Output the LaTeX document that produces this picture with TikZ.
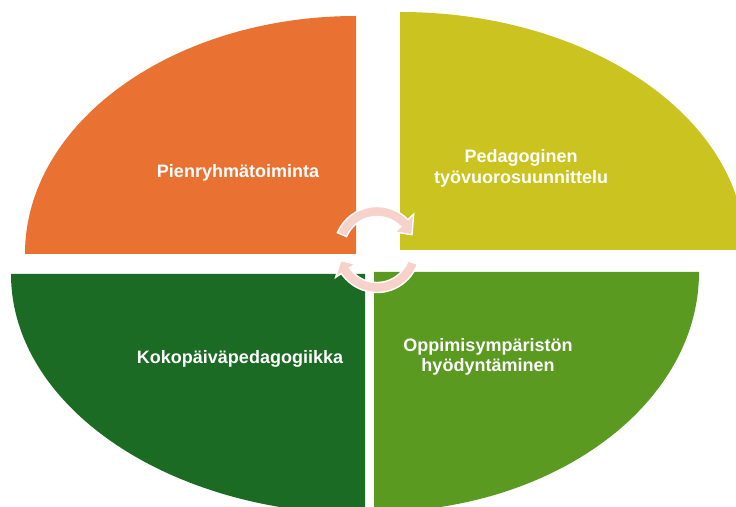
\documentclass[tikz,border=0pt]{standalone}
\usepackage{fontspec}
\setmainfont{Liberation Sans}
\definecolor{orangeq}{HTML}{E97132}
\definecolor{yellowq}{HTML}{CBC320}
\definecolor{darkgreenq}{HTML}{1B6B24}
\definecolor{lightgreenq}{HTML}{5A9A20}
\definecolor{arrowpink}{RGB}{246,210,202}
\begin{document}
\begin{tikzpicture}[x=1pt,y=1pt,
  lbl/.style={text=white, font=\bfseries\fontsize{18}{20.5}\selectfont, align=center, inner sep=0pt},
  circarrow/.style={fill=arrowpink, draw=white, line width=1.4pt, line join=miter}]
\useasboundingbox (0,0) rectangle (736,506);
\clip (0,0) rectangle (736,506);
% quadrants
\fill[orangeq] (356,252) -- (25,252) arc[start angle=180, end angle=90, x radius=331pt, y radius=238pt] -- cycle;
\fill[yellowq] (400,256) -- (745,256) arc[start angle=0, end angle=90, x radius=345pt, y radius=238pt] -- cycle;
\fill[darkgreenq] (365,232) -- (11,232) arc[start angle=180, end angle=270, x radius=354pt, y radius=240pt] -- cycle;
\fill[lightgreenq] (374,234) -- (699,234) arc[start angle=0, end angle=-90, x radius=325pt, y radius=240pt] -- cycle;
% circular arrows
\coordinate (C) at (377,256.5);
\filldraw[circarrow] ([shift={(C)}]157:43) arc[start angle=157, end angle=44, radius=43pt]
  -- ([shift={(C)}]44:51) -- ([shift={(C)}]23:38) -- ([shift={(C)}]44:25)
  -- ([shift={(C)}]44:33) arc[start angle=44, end angle=157, radius=33pt] -- cycle;
\filldraw[circarrow] ([shift={(C)}]-20:43) arc[start angle=-20, end angle=-146, radius=43pt]
  -- ([shift={(C)}]-146:50) -- ([shift={(C)}]-163:38) -- ([shift={(C)}]-146:26)
  -- ([shift={(C)}]-146:33) arc[start angle=-146, end angle=-20, radius=33pt] -- cycle;
% labels
\node[lbl] (pien) at (238,333.5) {Pienryhmätoiminta};
\node[lbl] (peda) at (521,337.5) {Pedagoginen\\työvuorosuunnittelu};
\node[lbl] (koko) at (240,147.5) {Kokopäiväpedagogiikka};
\node[lbl] (oppi) at (488,149) {Oppimisympäristön\\hyödyntäminen};
\end{tikzpicture}
\end{document}
